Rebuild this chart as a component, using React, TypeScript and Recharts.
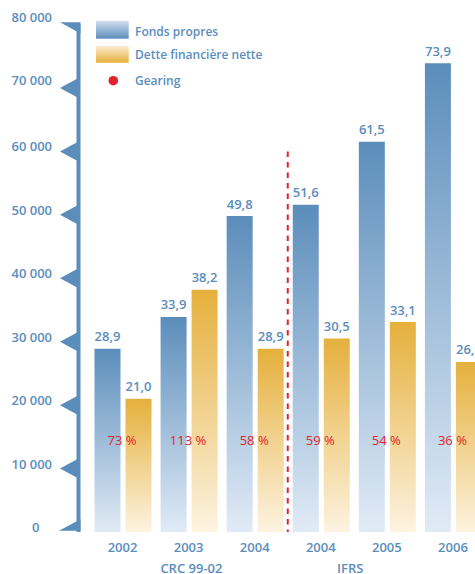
import React from 'react';
import { BarChart, Bar, XAxis, YAxis, LabelList, ReferenceLine, Legend } from 'recharts';

const CATEGORIES = ['2002', '2003', '2004a', '2004b', '2005', '2006'];
const YEAR_LABELS = ['2002', '2003', '2004', '2004', '2005', '2006'];
const GROUP_LABELS = ['', 'CRC 99-02', '', 'IFRS', '', ''];
const FONDS_PROPRES = [28900, 33900, 49800, 51600, 61500, 73900];
const DETTE = [21000, 38200, 28900, 30500, 33100, 26800];
const GEARING = [73, 113, 58, 59, 54, 36];
const Y_TICKS = [0, 10000, 20000, 30000, 40000, 50000, 60000, 70000, 80000];
const SERIES_NAMES = ['Fonds propres', 'Dette financière nette', 'Gearing'];
const DIVIDER_AFTER = '2004a';
const DIVIDER_TOP = 60000;

const data = CATEGORIES.map((key, i) => ({
  key,
  fp: FONDS_PROPRES[i],
  dette: DETTE[i],
  gearing: GEARING[i],
}));

const BLUE = '#5b8dbb';
const TEXT = '#5b8ebd';
const RED = '#e4222c';
const FONT = '"Open Sans", "Noto Sans", sans-serif';

const fmtValue = (v: number) => (v / 1000).toFixed(1).replace('.', ',');
const fmtTick = (v: number) => (v === 0 ? '0' : `${Math.round(v / 1000)} 000`);

const YTick = (props: any) => {
  const { y, payload, index } = props;
  const v = payload.value;
  let poly: string;
  if (v === 80000) {
    poly = `60,${y - 2.2} 80.5,${y - 2.2} 80.5,${y + 9}`;
  } else if (v === 0) {
    poly = `59,${y - 1.3} 80.5,${y - 1.3} 80.5,${y - 12.7}`;
  } else {
    poly = `60,${y} 78.5,${y - 10} 78.5,${y + 10}`;
  }
  const labelDy = v >= 70000 ? -3 : 0;
  return (
    <g key={index}>
      <polygon points={poly} fill={BLUE} />
      <text
        x={v === 0 ? 39.5 : 52}
        y={y + labelDy}
        textAnchor="end"
        fill={TEXT}
        fontFamily={FONT}
        fontSize={13}
        fontWeight={600}
      >
        {fmtTick(v)}
      </text>
    </g>
  );
};

const XTick = (props: any) => {
  const { x, y, index } = props;
  const group = GROUP_LABELS[index];
  const groupDx = index === 3 ? 29.5 : 2.8;
  return (
    <g>
      <text x={x} y={y + 19.7} textAnchor="middle" fill={TEXT} fontFamily={FONT} fontSize={13} fontWeight={600}>
        {YEAR_LABELS[index]}
      </text>
      {group ? (
        <text x={x + groupDx} y={y + 40.5} textAnchor="middle" fill={TEXT} fontFamily={FONT} fontSize={13} fontWeight={600}>
          {group}
        </text>
      ) : null}
    </g>
  );
};

const ValueLabel = (props: any) => {
  const { x, y, width, value } = props;
  return (
    <text x={x + width / 2} y={y - 7.5} textAnchor="middle" fill={TEXT} fontFamily={FONT} fontSize={13} fontWeight={600}>
      {fmtValue(value)}
    </text>
  );
};

const GearingLabel = (props: any) => {
  const { x, y, width, height, value } = props;
  const base = y + height;
  return (
    <text
      x={x + width + 2.5 - 1}
      y={base - 87}
      textAnchor="middle"
      fill={RED}
      fontFamily={FONT}
      fontSize={13}
      fontWeight={500}
    >
      {`${value} %`}
    </text>
  );
};

const renderLegend = () => (
  <svg width={300} height={95} style={{ display: 'block' }}>
    <defs>
      <linearGradient id="lgBlue" x1="0" y1="0" x2="0" y2="1">
        <stop offset="0%" stopColor="#d3e0ef" />
        <stop offset="100%" stopColor="#5b8dbb" />
      </linearGradient>
      <linearGradient id="lgOrange" x1="0" y1="0" x2="0" y2="1">
        <stop offset="0%" stopColor="#fcecd0" />
        <stop offset="100%" stopColor="#e5b03c" />
      </linearGradient>
    </defs>
    <rect x={96} y={20.7} width={32.7} height={18} fill="url(#lgBlue)" />
    <rect x={96} y={46} width={32.7} height={16.7} fill="url(#lgOrange)" />
    <circle cx={113.3} cy={80.7} r={4.8} fill={RED} />
    {SERIES_NAMES.map((n, i) => (
      <text
        key={n}
        x={135}
        y={[35.5, 58.8, 84.5][i]}
        fill={TEXT}
        fontFamily={FONT}
        fontSize={12}
        fontWeight={600}
      >
        {n}
      </text>
    ))}
  </svg>
);

export default function App() {
  return (
    <div
      style={{
        position: 'absolute',
        left: 0,
        top: 0,
        width: 475,
        height: 574,
        overflow: 'hidden',
        background: '#fff',
      }}
    >
      <BarChart
        width={486}
        height={574}
        data={data}
        margin={{ top: 24.5, right: 0, bottom: 0, left: 0 }}
        barSize={26}
        barGap={5}
      >
        <defs>
          <linearGradient id="gBlue" x1="0" y1="0" x2="0" y2="1">
            <stop offset="0%" stopColor="#5b8dbb" />
            <stop offset="100%" stopColor="#e1ebf6" />
          </linearGradient>
          <linearGradient id="gOrange" x1="0" y1="0" x2="0" y2="1">
            <stop offset="0%" stopColor="#e5b03c" />
            <stop offset="100%" stopColor="#fdf3e1" />
          </linearGradient>
        </defs>
        <XAxis
          dataKey="key"
          height={42}
          axisLine={false}
          tickLine={false}
          tickSize={0}
          tickMargin={0}
          interval={0}
          padding={{ left: 11, right: 0 }}
          tick={<XTick />}
        />
        <YAxis
          width={78.5}
          domain={[0, 80000]}
          ticks={Y_TICKS}
          interval={0}
          axisLine={{ stroke: BLUE, strokeWidth: 4 }}
          tickLine={false}
          tickSize={0}
          tickMargin={0}
          tick={<YTick />}
        />
        <Bar dataKey="fp" name={SERIES_NAMES[0]} fill="url(#gBlue)" isAnimationActive={false}>
          <LabelList dataKey="fp" content={ValueLabel} />
          <LabelList dataKey="gearing" content={GearingLabel} />
        </Bar>
        <Bar dataKey="dette" name={SERIES_NAMES[1]} fill="url(#gOrange)" isAnimationActive={false}>
          <LabelList dataKey="dette" content={ValueLabel} />
        </Bar>
        <ReferenceLine
          segment={[
            { x: DIVIDER_AFTER, y: DIVIDER_TOP },
            { x: DIVIDER_AFTER, y: 0 },
          ]}
          position="end"
          stroke={RED}
          strokeWidth={2}
          strokeDasharray="5.5 5"
        />
        <Legend
          layout="horizontal"
          verticalAlign="middle"
          align="center"
          wrapperStyle={{ position: 'absolute', top: 0, left: 0, width: 300, height: 95 }}
          content={renderLegend}
        />
      </BarChart>
    </div>
  );
}
